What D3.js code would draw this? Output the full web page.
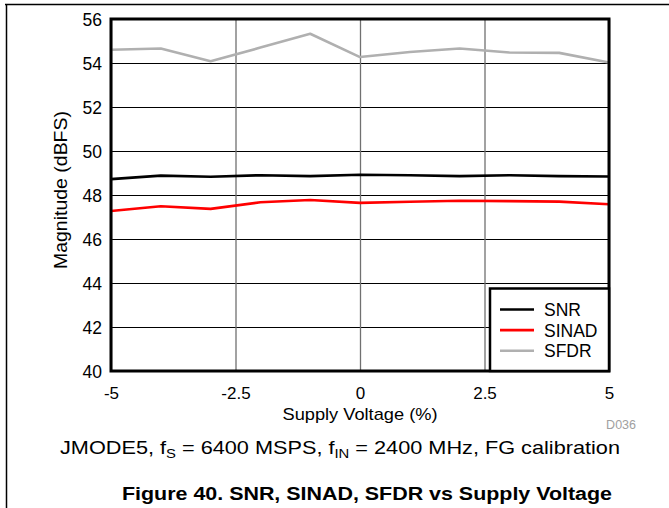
<!DOCTYPE html>
<html>
<head>
<meta charset="utf-8">
<script src="https://cdn.jsdelivr.net/npm/d3@7"></script>
<style>
  html, body { margin: 0; padding: 0; background: #fff; }
  svg { display: block; font-family: "Liberation Sans", Arial, sans-serif; }
</style>
</head>
<body>
<svg id="chart" width="669" height="508"></svg>
<script>
// Supply voltage deviation (%)
const supply = [-5, -4, -3, -2, -1, 0, 1, 2, 3, 4, 5];
// Measured dynamic performance (dBFS)
const snr   = [48.72, 48.88, 48.83, 48.9, 48.86, 48.92, 48.9, 48.86, 48.9, 48.86, 48.84];
const sinad = [47.27, 47.49, 47.37, 47.67, 47.77, 47.64, 47.69, 47.74, 47.72, 47.7, 47.58];
const sfdr  = [54.6, 54.66, 54.08, 54.7, 55.33, 54.27, 54.5, 54.66, 54.48, 54.46, 54.02];

const xTicks = [-5, -2.5, 0, 2.5, 5];
const xTickLabels = ["-5", "-2.5", "0", "2.5", "5"];
const yTicks = [40, 42, 44, 46, 48, 50, 52, 54, 56];

const series = [
  { name: "SNR",   values: snr,   color: "#000000" },
  { name: "SINAD", values: sinad, color: "#ff0000" },
  { name: "SFDR",  values: sfdr,  color: "#b0b0b0" }
];

const svg = d3.select("#chart");
const m = { left: 111, right: 609, top: 19, bottom: 371 };
const FONT = "Liberation Sans, Arial, sans-serif";

const x = d3.scaleLinear().domain([-5, 5]).range([m.left, m.right]);
const y = d3.scaleLinear().domain([40, 56]).range([m.bottom, m.top]);

// page frame (top and left rules)
svg.append("line").attr("x1", 5).attr("x2", 669).attr("y1", 4.5).attr("y2", 4.5)
  .attr("stroke", "#000").attr("stroke-width", 1.3);
svg.append("line").attr("x1", 6.5).attr("x2", 6.5).attr("y1", 4).attr("y2", 508)
  .attr("stroke", "#000").attr("stroke-width", 1.5);

// horizontal grid
svg.append("g")
  .attr("transform", `translate(${m.left},0)`)
  .call(d3.axisLeft(y).tickValues(yTicks).tickSize(-(m.right - m.left)).tickFormat(""))
  .call(g => g.select(".domain").remove())
  .call(g => g.selectAll("line").attr("stroke", "#000").attr("stroke-width", 1));

// vertical grid
svg.append("g")
  .attr("transform", `translate(0,${m.bottom})`)
  .call(d3.axisBottom(x).tickValues(xTicks).tickSize(-(m.bottom - m.top)).tickFormat(""))
  .call(g => g.select(".domain").remove())
  .call(g => g.selectAll("line").attr("stroke", "#707070").attr("stroke-width", 1.3));

// tick labels
svg.append("g")
  .attr("transform", `translate(${m.left},0)`)
  .call(d3.axisLeft(y).tickValues(yTicks).tickSize(0).tickPadding(9))
  .call(g => g.select(".domain").remove())
  .call(g => g.selectAll("text").attr("font-size", 17.5).attr("fill", "#000")
    .attr("font-family", FONT).attr("dy", "0.36em"));

svg.append("g")
  .attr("transform", `translate(0,${m.bottom})`)
  .call(d3.axisBottom(x).tickValues(xTicks).tickSize(0).tickPadding(16)
    .tickFormat((d, i) => xTickLabels[i]))
  .call(g => g.select(".domain").remove())
  .call(g => g.selectAll("text").attr("font-size", 17).attr("fill", "#000")
    .attr("font-family", FONT));

// data lines
const line = d3.line().x((d, i) => x(supply[i])).y(d => y(d));
svg.append("g").selectAll("path")
  .data(series.slice().reverse())
  .join("path")
  .attr("d", d => line(d.values))
  .attr("fill", "none")
  .attr("stroke", d => d.color)
  .attr("stroke-width", 2.6)
  .attr("stroke-linejoin", "round");

// plot frame
svg.append("rect")
  .attr("x", m.left).attr("y", m.top)
  .attr("width", m.right - m.left).attr("height", m.bottom - m.top)
  .attr("fill", "none").attr("stroke", "#000").attr("stroke-width", 3);

// legend
const lg = svg.append("g");
lg.append("rect")
  .attr("x", 490).attr("y", 288.5).attr("width", m.right - 490).attr("height", m.bottom - 288.5)
  .attr("fill", "#fff").attr("stroke", "#000").attr("stroke-width", 2.5);
series.forEach((s, i) => {
  const yy = 309.5 + i * 20.6;
  lg.append("line").attr("x1", 500).attr("x2", 534).attr("y1", yy).attr("y2", yy)
    .attr("stroke", s.color).attr("stroke-width", 2.6);
  lg.append("text").attr("x", 544).attr("y", yy + 6.5).attr("font-size", 17.5).text(s.name);
});

// axis titles
svg.append("text").attr("x", 360).attr("y", 419.5).attr("text-anchor", "middle")
  .attr("font-size", 17).attr("textLength", 155).attr("lengthAdjust", "spacingAndGlyphs")
  .text("Supply Voltage (%)");
svg.append("text")
  .attr("transform", "translate(67,190) rotate(-90)")
  .attr("text-anchor", "middle").attr("font-size", 18)
  .attr("textLength", 158).attr("lengthAdjust", "spacingAndGlyphs")
  .text("Magnitude (dBFS)");

svg.append("text").attr("x", 636).attr("y", 429).attr("text-anchor", "end")
  .attr("font-size", 12.5).attr("fill", "#a0a0a0").text("D036");

// condition note
const note = svg.append("text").attr("x", 340).attr("y", 454)
  .attr("text-anchor", "middle").attr("font-size", 19)
  .attr("textLength", 560).attr("lengthAdjust", "spacingAndGlyphs");
note.append("tspan").text("JMODE5, f");
note.append("tspan").attr("font-size", 13).attr("dy", 4).text("S");
note.append("tspan").attr("dy", -4).text(" = 6400 MSPS, f");
note.append("tspan").attr("font-size", 13).attr("dy", 4).text("IN");
note.append("tspan").attr("dy", -4).text(" = 2400 MHz, FG calibration");

svg.append("text").attr("x", 367).attr("y", 500).attr("text-anchor", "middle")
  .attr("font-size", 18).attr("font-weight", "bold")
  .attr("textLength", 490).attr("lengthAdjust", "spacingAndGlyphs")
  .text("Figure 40. SNR, SINAD, SFDR vs Supply Voltage");
</script>
</body>
</html>
